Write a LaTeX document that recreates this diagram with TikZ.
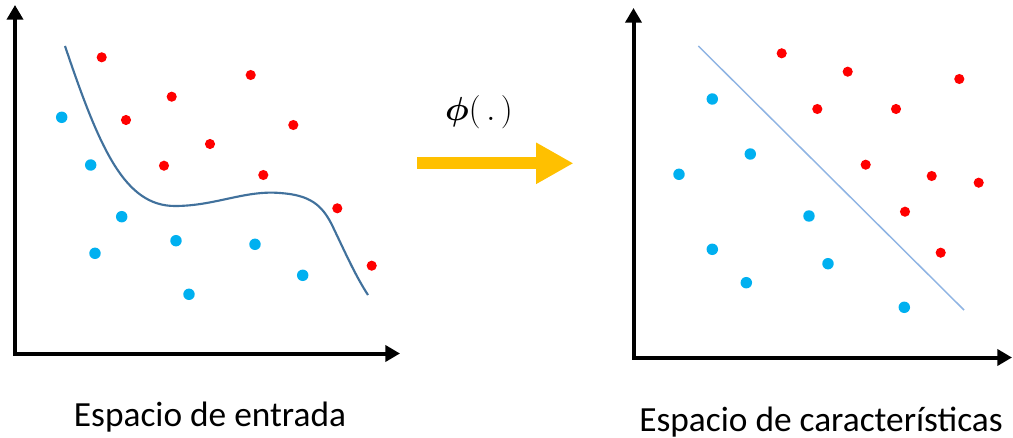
\RequirePackage{fix-cm}
\documentclass[tikz,border=0pt]{standalone}
\usepackage{amsmath}
\usepackage{bm}
\usepackage{fontspec}
\setmainfont{Carlito}
\usepackage{tikz}
\usetikzlibrary{arrows.meta}
\definecolor{ptred}{HTML}{FF0000}
\definecolor{ptblue}{HTML}{00B0F0}
\definecolor{curveblue}{HTML}{41719C}
\definecolor{lineblue}{HTML}{8FB4E3}
\definecolor{mapyellow}{HTML}{FFC000}
\tikzset{
  axis/.style={line width=3pt,line join=miter,{Triangle[length=11pt,width=12pt]}-{Triangle[length=11pt,width=12pt]}},
  reddot/.style={fill=ptred},
  bluedot/.style={fill=ptblue},
  caption/.style={anchor=base,font=\fontsize{26.5}{30}\selectfont}
}

\begin{document}
\begin{tikzpicture}[x=0.75pt,y=-0.75pt]
  \useasboundingbox (0,0) rectangle (1013,438);
  % input space
  \coordinate (o1) at (15,353.5);
  \draw[axis] (15,5) -- (o1) -- (400,353.5);
  \draw[curveblue,line width=1.6pt] (65,46) .. controls (100,150) and (125,206) .. (175,206)
    .. controls (215,206) and (245,190) .. (280,193)
    .. controls (310,195) and (322,205) .. (332,225)
    .. controls (345,252) and (355,275) .. (368,295);
  \foreach \p in {(101.7,57.3),(250.7,75),(171.7,96.7),(126,120),(293.3,125),(210,144),(164,165.7),(263.3,175),(337.3,208.3),(371.7,265.7)}
    \fill[reddot] \p circle (3.8pt);
  \foreach \p in {(61.7,117.3),(90.7,165),(121.7,216.7),(95,253.3),(176,240.7),(255,244.3),(302.7,275.3),(189,294.3)}
    \fill[bluedot] \p circle (4.3pt);
  \node[caption] (entrada) at (210,426) {Espacio de entrada};
  % mapping
  \draw[mapyellow,line width=9pt,-{Triangle[length=28pt,width=29pt]}] (417,163.3) -- (573.5,163.3);
  \node[font=\fontsize{25}{30}\selectfont] (phi) at (479,112.5) {$\bm{\phi}(\,.\,)$};
  % feature space
  \coordinate (o2) at (633.5,357.5);
  \draw[axis] (633.5,8) -- (o2) -- (1012,357.5);
  \draw[lineblue,line width=1.1pt] (698.3,46) -- (964,310);
  \foreach \p in {(781.7,53.3),(847.7,71.7),(959.3,79),(817.3,109),(896,109),(865.7,164.7),(931.7,176),(978.7,182.7),(905,211.7),(940.7,252.7)}
    \fill[reddot] \p circle (3.8pt);
  \foreach \p in {(712.3,99),(750.3,154),(679,174.3),(809,216),(712.3,249.3),(828,263.7),(746.3,282.7),(904.3,307.3)}
    \fill[bluedot] \p circle (4.3pt);
  \node[caption] (caract) at (821,431) {Espacio de características};
\end{tikzpicture}
\end{document}
